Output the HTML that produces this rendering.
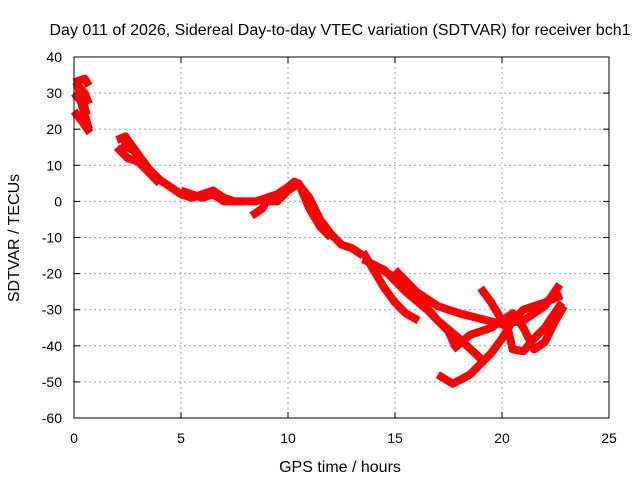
<!DOCTYPE html>
<html><head><meta charset="utf-8"><style>
body{margin:0;background:#fff}
svg{display:block;font-family:"Liberation Sans",sans-serif;font-size:14px}
</style></head><body>
<svg width="640" height="480" id="c">
<text x="340" y="35" text-anchor="middle" font-size="16">Day 011 of 2026, Sidereal Day-to-day VTEC variation (SDTVAR) for receiver bch1</text>
<text x="340" y="472" text-anchor="middle" font-size="16">GPS time / hours</text>
<text transform="translate(19,238) rotate(-90)" text-anchor="middle" font-size="16">SDTVAR / TECUs</text>
<g id="grid"></g><g id="data"></g>
<rect x="74" y="57" width="535" height="361" fill="none" stroke="#000"/>
</svg>
<script>
const xTicks=[0,5,10,15,20,25];
const yTicks=[40,30,20,10,0,-10,-20,-30,-40,-50,-60];
const seriesA1=[[0,33],[0.5,34],[0.7,32]];
const seriesA2=[[0,30],[0.3,28],[0.6,22],[0.7,20]];
const seriesA3=[[0,25],[0.4,22],[0.75,19]];
const seriesA4=[[0.1,33],[0.3,30],[0.5,26],[0.6,24]];
const seriesA5=[[0.2,32],[0.5,30],[0.7,27]];
const seriesB1=[[2,17],[2.4,18],[3,13],[3.5,9],[4,6],[4.5,4]];
const seriesB2=[[2,15],[2.5,12],[3,11],[3.5,8],[4,5]];
const seriesB3=[[2.2,16],[2.8,14],[3.3,10],[3.8,7]];
const seriesC1=[[4.5,4],[5,2],[5.5,1],[6,2],[6.5,3],[7,1],[7.5,0],[8,0],[8.5,0],[9,1],[9.5,2],[10,4],[10.3,5.5],[10.6,4],[11,1],[11.5,-5],[12,-9],[12.5,-12],[13,-13],[13.5,-15]];
const seriesC2=[[8.3,-4],[8.8,-2],[9,0],[9.5,0],[10,3],[10.5,5],[11,-2],[11.5,-7],[12,-10]];
const seriesC3=[[5,3],[5.5,2],[6,1],[6.5,2],[7,0],[8,0]];
const seriesD2=[[13.5,-14],[14,-19],[14.5,-24],[15,-28],[15.5,-31],[16.1,-33]];
const seriesD3=[[13.5,-16],[14.5,-19],[15.5,-25],[16.5,-30],[17.5,-36],[17.8,-40]];
const seriesD4=[[13.8,-17],[15,-21],[16,-26],[17,-33],[18,-38],[19,-43.5]];
const seriesD5=[[15,-19],[16,-25],[17,-29],[18,-31],[19,-32.5],[20,-34],[21,-33],[22,-29],[22.7,-23]];
const seriesD6=[[17,-48],[17.7,-50.5],[18.5,-48],[19,-45],[19.5,-42],[20,-38],[20.5,-33],[21,-30],[22,-28],[22.8,-26]];
const seriesD7=[[19,-24],[19.5,-28],[20,-33],[20.3,-36],[20.5,-41],[21,-41.5],[21.5,-38],[22,-35],[22.8,-28]];
const seriesD8=[[17.7,-41],[18.5,-37],[19.5,-35],[20,-33],[20.5,-31],[21,-35],[21.5,-41],[22,-39],[22.5,-33],[22.9,-29]];
const allSeries=[seriesA1,seriesA2,seriesA3,seriesA4,seriesA5,seriesB1,seriesB2,seriesB3,seriesC1,seriesC2,seriesC3,seriesD2,seriesD3,seriesD4,seriesD5,seriesD6,seriesD7,seriesD8];
const NS="http://www.w3.org/2000/svg";
const X=h=>74+h*535/25, Y=v=>57+(40-v)*361/100;
const g=document.getElementById('grid'), d=document.getElementById('data');
function mk(t,a,p){const e=document.createElementNS(NS,t);for(const k in a)e.setAttribute(k,a[k]);p.appendChild(e);return e;}
xTicks.forEach(t=>{const x=X(t);
 if(t>0&&t<25){const l=mk('line',{x1:x,x2:x,y1:57,y2:418,stroke:'#a0a0a0','stroke-dasharray':'2,3'},g);
 
 }
 mk('line',{x1:x,x2:x,y1:418,y2:412,stroke:'#000'},g);mk('line',{x1:x,x2:x,y1:57,y2:63,stroke:'#000'},g);
 const tx=mk('text',{x:x,y:443,'text-anchor':'middle'},g);tx.textContent=t;
 
 });
yTicks.forEach(t=>{const y=Y(t);
 if(t<40&&t>-60){const l=mk('line',{x1:74,x2:609,y1:y,y2:y,stroke:'#a0a0a0','stroke-dasharray':'2,3'},g);
 
 }
 mk('line',{x1:74,x2:80,y1:y,y2:y,stroke:'#000'},g);mk('line',{x1:609,x2:603,y1:y,y2:y,stroke:'#000'},g);
 const tx=mk('text',{x:62,y:y+5,'text-anchor':'end'},g);tx.textContent=t;
 
 });
allSeries.forEach(s=>{const p=mk('polyline',{points:s.map(q=>X(q[0])+','+Y(q[1])).join(' '),fill:'none',stroke:'#ff0000','stroke-width':8,'stroke-linejoin':'round','stroke-linecap':'butt'},d);
 
 });
</script>
</body></html>
